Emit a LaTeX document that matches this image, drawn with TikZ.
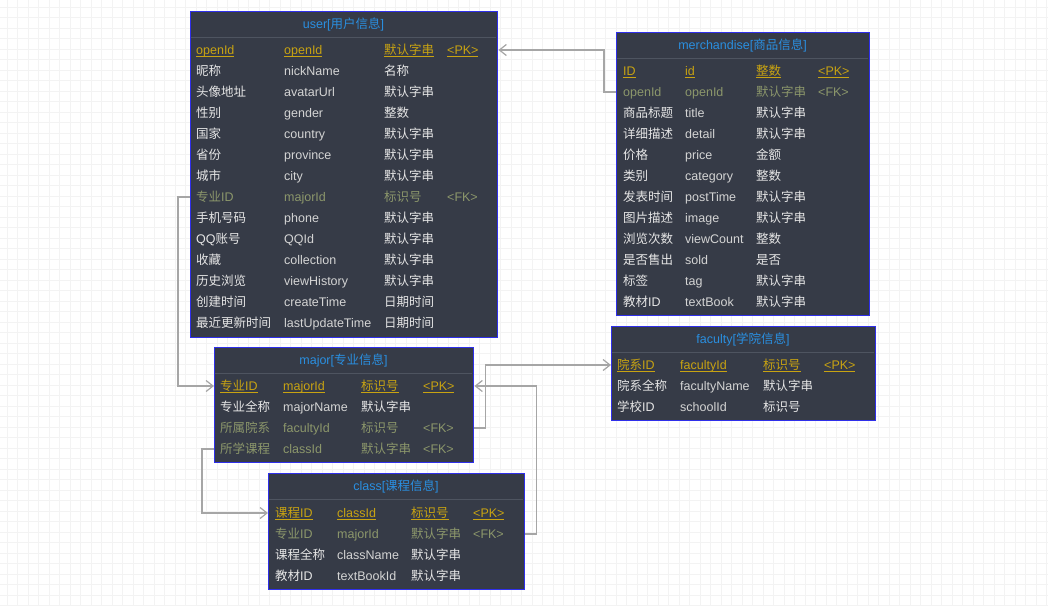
\documentclass[tikz,border=0pt]{standalone}
\usepackage{fontspec}
\setmainfont{Liberation Sans}
\newfontfamily\zhfont{Noto Sans CJK SC}
\usetikzlibrary{arrows.meta}

% switch to the CJK font for Han characters and back
\XeTeXinterchartokenstate=1
\newXeTeXintercharclass\zhclass
\count255="4E00
\loop\XeTeXcharclass\count255=\zhclass\advance\count255 by 1\ifnum\count255<"A000\repeat
\XeTeXinterchartoks 0 \zhclass={\zhfont}
\XeTeXinterchartoks 4095 \zhclass={\zhfont}
\XeTeXinterchartoks \zhclass 0={\rmfamily}
\XeTeXinterchartoks \zhclass 4095={\rmfamily}

\definecolor{tabFill}{HTML}{363B47}
\definecolor{tabBorder}{HTML}{2F2FEA}
\definecolor{sepGray}{HTML}{4E5460}
\definecolor{titleBlue}{HTML}{2A8FE0}
\definecolor{txtLight}{HTML}{E6E6E6}
\definecolor{txtGray}{HTML}{D4D4D4}
\definecolor{pkGold}{HTML}{C8A312}
\definecolor{fkOlive}{HTML}{8C976B}
\definecolor{linkGray}{HTML}{A6A6A6}
\definecolor{gridGray}{HTML}{F3F3F3}

\newcommand{\pkline}[1]{\setbox0=\hbox{#1}\rlap{\raisebox{-3pt}{\rule{\wd0}{1.2pt}}}\box0}
\newcommand{\tabFrame}[6]{
  \node[tab, minimum width=#4, minimum height=#5] (#1) at (#2,#3) {};
  \node[title] (#1Title) at ({#2+#4/2},{#3+13.5}) {#6};
  \draw[sep] ({#2+0.7},{#3+26}) -- ({#2+#4-0.7},{#3+26});
}
\newcommand{\tabRow}[7]{
  \node[cell, #3] (#1) at (\colA,#2) {#4};
  \node[cell, field, #3] (#1B) at (\colB,#2) {#5};
  \node[cell, #3] (#1C) at (\colC,#2) {#6};
  \node[cell, #3] (#1D) at (\colD,#2) {#7};
}
\newcommand{\pkRow}[6]{
  \tabRow{#1}{#2}{pk}{\pkline{#3}}{\pkline{#4}}{\pkline{#5}}{\pkline{#6}}
}

\begin{document}
\begin{tikzpicture}[x=1pt, y=-1pt,
  cell/.style={anchor=west, inner sep=0pt, text height=10pt, text depth=2pt,
    text=txtLight, font=\fontsize{12.5}{15}\selectfont},
  field/.style={text=txtGray},
  pk/.style={text=pkGold},
  fk/.style={text=fkOlive},
  tab/.style={draw=tabBorder, line width=1.4pt, fill=tabFill, anchor=north west, inner sep=0pt},
  title/.style={text=titleBlue, inner sep=0pt, font=\fontsize{12.5}{15}\selectfont},
  sep/.style={draw=sepGray, line width=1pt},
  link/.style={draw=linkGray, line width=1.2pt, -{Straight Barb[length=7pt,width=11pt]}},
]
  % Background
  \fill[white] (0,0) rectangle (1048,606);
  \useasboundingbox (0,0) rectangle (1048,606);
  \foreach \x in {7,17.5,...,1048} \draw[gridGray, line width=0.8pt] (\x,0) -- (\x,606);
  \foreach \y in {7,17.5,...,606} \draw[gridGray, line width=0.8pt] (0,\y) -- (1048,\y);

  % user
  \def\colA{196}\def\colB{284}\def\colC{384}\def\colD{447}
  \tabFrame{user}{190}{11}{307}{326}{user[用户信息]}
  \pkRow{userOpenId}{50}{openId}{openId}{默认字串}{<PK>}
  \foreach \y/\a/\b/\c in {71/昵称/nickName/名称, 92/头像地址/avatarUrl/默认字串,
      113/性别/gender/整数, 134/国家/country/默认字串, 155/省份/province/默认字串,
      176/城市/city/默认字串}
    {\tabRow{user\y}{\y}{}{\a}{\b}{\c}{}}
  \tabRow{userMajorId}{197}{fk}{专业ID}{majorId}{标识号}{<FK>}
  \foreach \y/\a/\b/\c in {218/手机号码/phone/默认字串, 239/QQ账号/QQId/默认字串,
      260/收藏/collection/默认字串, 281/历史浏览/viewHistory/默认字串,
      302/创建时间/createTime/日期时间, 323/最近更新时间/lastUpdateTime/日期时间}
    {\tabRow{user\y}{\y}{}{\a}{\b}{\c}{}}

  % merchandise
  \def\colA{623}\def\colB{685}\def\colC{756}\def\colD{818}
  \tabFrame{merchandise}{616}{32}{253}{283}{merchandise[商品信息]}
  \pkRow{merchId}{71}{ID}{id}{整数}{<PK>}
  \tabRow{merchOpenId}{92}{fk}{openId}{openId}{默认字串}{<FK>}
  \foreach \y/\a/\b/\c in {113/商品标题/title/默认字串, 134/详细描述/detail/默认字串,
      155/价格/price/金额, 176/类别/category/整数, 197/发表时间/postTime/默认字串,
      218/图片描述/image/默认字串, 239/浏览次数/viewCount/整数, 260/是否售出/sold/是否,
      281/标签/tag/默认字串, 302/教材ID/textBook/默认字串}
    {\tabRow{merch\y}{\y}{}{\a}{\b}{\c}{}}

  % major
  \def\colA{220}\def\colB{283}\def\colC{361}\def\colD{423}
  \tabFrame{major}{214}{347}{259}{115}{major[专业信息]}
  \pkRow{majorMajorId}{386}{专业ID}{majorId}{标识号}{<PK>}
  \tabRow{majorName}{407}{}{专业全称}{majorName}{默认字串}{}
  \tabRow{majorFacultyId}{428}{fk}{所属院系}{facultyId}{标识号}{<FK>}
  \tabRow{majorClassId}{449}{fk}{所学课程}{classId}{默认字串}{<FK>}

  % faculty
  \def\colA{617}\def\colB{680}\def\colC{763}\def\colD{824}
  \tabFrame{faculty}{611}{326}{264}{94}{faculty[学院信息]}
  \pkRow{facultyFacultyId}{365}{院系ID}{facultyId}{标识号}{<PK>}
  \tabRow{facultyName}{386}{}{院系全称}{facultyName}{默认字串}{}
  \tabRow{facultySchoolId}{407}{}{学校ID}{schoolId}{标识号}{}

  % class
  \def\colA{275}\def\colB{337}\def\colC{411}\def\colD{473}
  \tabFrame{class}{268}{473}{256}{116}{class[课程信息]}
  \pkRow{classClassId}{513}{课程ID}{classId}{标识号}{<PK>}
  \tabRow{classMajorId}{534}{fk}{专业ID}{majorId}{默认字串}{<FK>}
  \tabRow{className}{555}{}{课程全称}{className}{默认字串}{}
  \tabRow{classTextBookId}{576}{}{教材ID}{textBookId}{默认字串}{}

  % Links
  \draw[link] (merchOpenId -| merchandise.west) -- ++(-12,0) |- (userOpenId -| user.east);
  \draw[link] (userMajorId -| user.west) -- ++(-12,0) |- (majorMajorId -| major.west);
  \draw[link] (majorFacultyId -| major.east) -- ++(11,0) |- (facultyFacultyId -| faculty.west);
  \draw[link] (classMajorId -| class.east) -- ++(11,0) |- (majorMajorId -| major.east);
  \draw[link] (majorClassId -| major.west) -- ++(-12,0) |- (classClassId -| class.west);

\end{tikzpicture}
\end{document}
